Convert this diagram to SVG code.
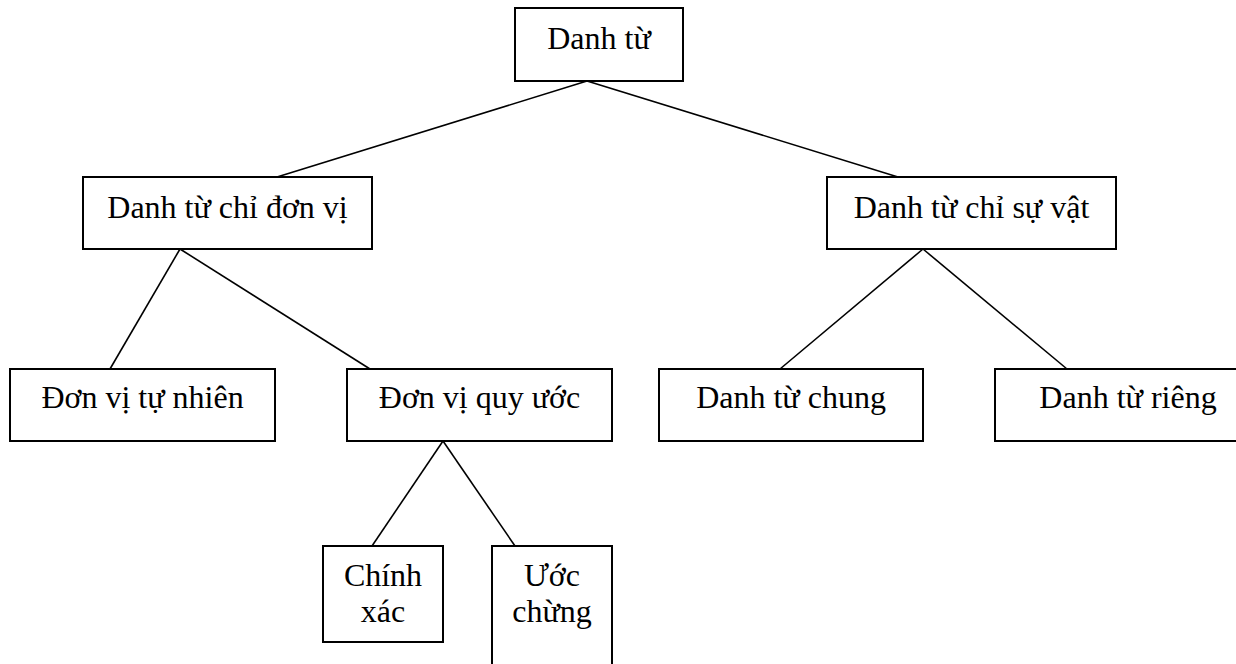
<svg xmlns="http://www.w3.org/2000/svg" width="1236" height="664" viewBox="0 0 1236 664">
<style>
.box{fill:#fff;stroke:#000;stroke-width:2}
.lbl{font-family:"Liberation Serif","Times New Roman",serif;font-size:32px;fill:#000;text-anchor:middle}
.conn line{stroke:#000;stroke-width:1.6}
</style>
<rect width="1236" height="664" fill="#fff"/>
<g id="connectors" class="conn">
<line x1="587" y1="81" x2="277" y2="177"/>
<line x1="587" y1="81" x2="898" y2="177"/>
<line x1="180" y1="249" x2="110" y2="369"/>
<line x1="180" y1="249" x2="370" y2="369"/>
<line x1="923" y1="249" x2="780" y2="369"/>
<line x1="923" y1="249" x2="1067" y2="369"/>
<line x1="443" y1="441" x2="372" y2="546"/>
<line x1="443" y1="441" x2="515" y2="546"/>
</g>
<g id="n-danhtu"><rect class="box" x="515" y="8" width="168" height="73"/><text class="lbl" x="599" y="49">Danh từ</text></g>
<g id="n-donvi"><rect class="box" x="83" y="177" width="289" height="72"/><text class="lbl" x="227.5" y="218">Danh từ chỉ đơn vị</text></g>
<g id="n-suvat"><rect class="box" x="827" y="177" width="289" height="72"/><text class="lbl" x="971.5" y="218">Danh từ chỉ sự vật</text></g>
<g id="n-tunhien"><rect class="box" x="10" y="369" width="265" height="72"/><text class="lbl" x="142.5" y="408">Đơn vị tự nhiên</text></g>
<g id="n-quyuoc"><rect class="box" x="347" y="369" width="265" height="72"/><text class="lbl" x="479.5" y="408">Đơn vị quy ước</text></g>
<g id="n-chung"><rect class="box" x="659" y="369" width="264" height="72"/><text class="lbl" x="791" y="408">Danh từ chung</text></g>
<g id="n-rieng"><rect class="box" x="995" y="369" width="270" height="72"/><text class="lbl" x="1128" y="408">Danh từ riêng</text></g>
<g id="n-chinhxac"><rect class="box" x="323" y="546" width="120" height="96"/><text class="lbl" x="383" y="586">Chính</text><text class="lbl" x="383" y="622">xác</text></g>
<g id="n-uocchung"><rect class="box" x="492" y="546" width="120" height="140"/><text class="lbl" x="552" y="586">Ước</text><text class="lbl" x="552" y="622">chừng</text></g>
</svg>
